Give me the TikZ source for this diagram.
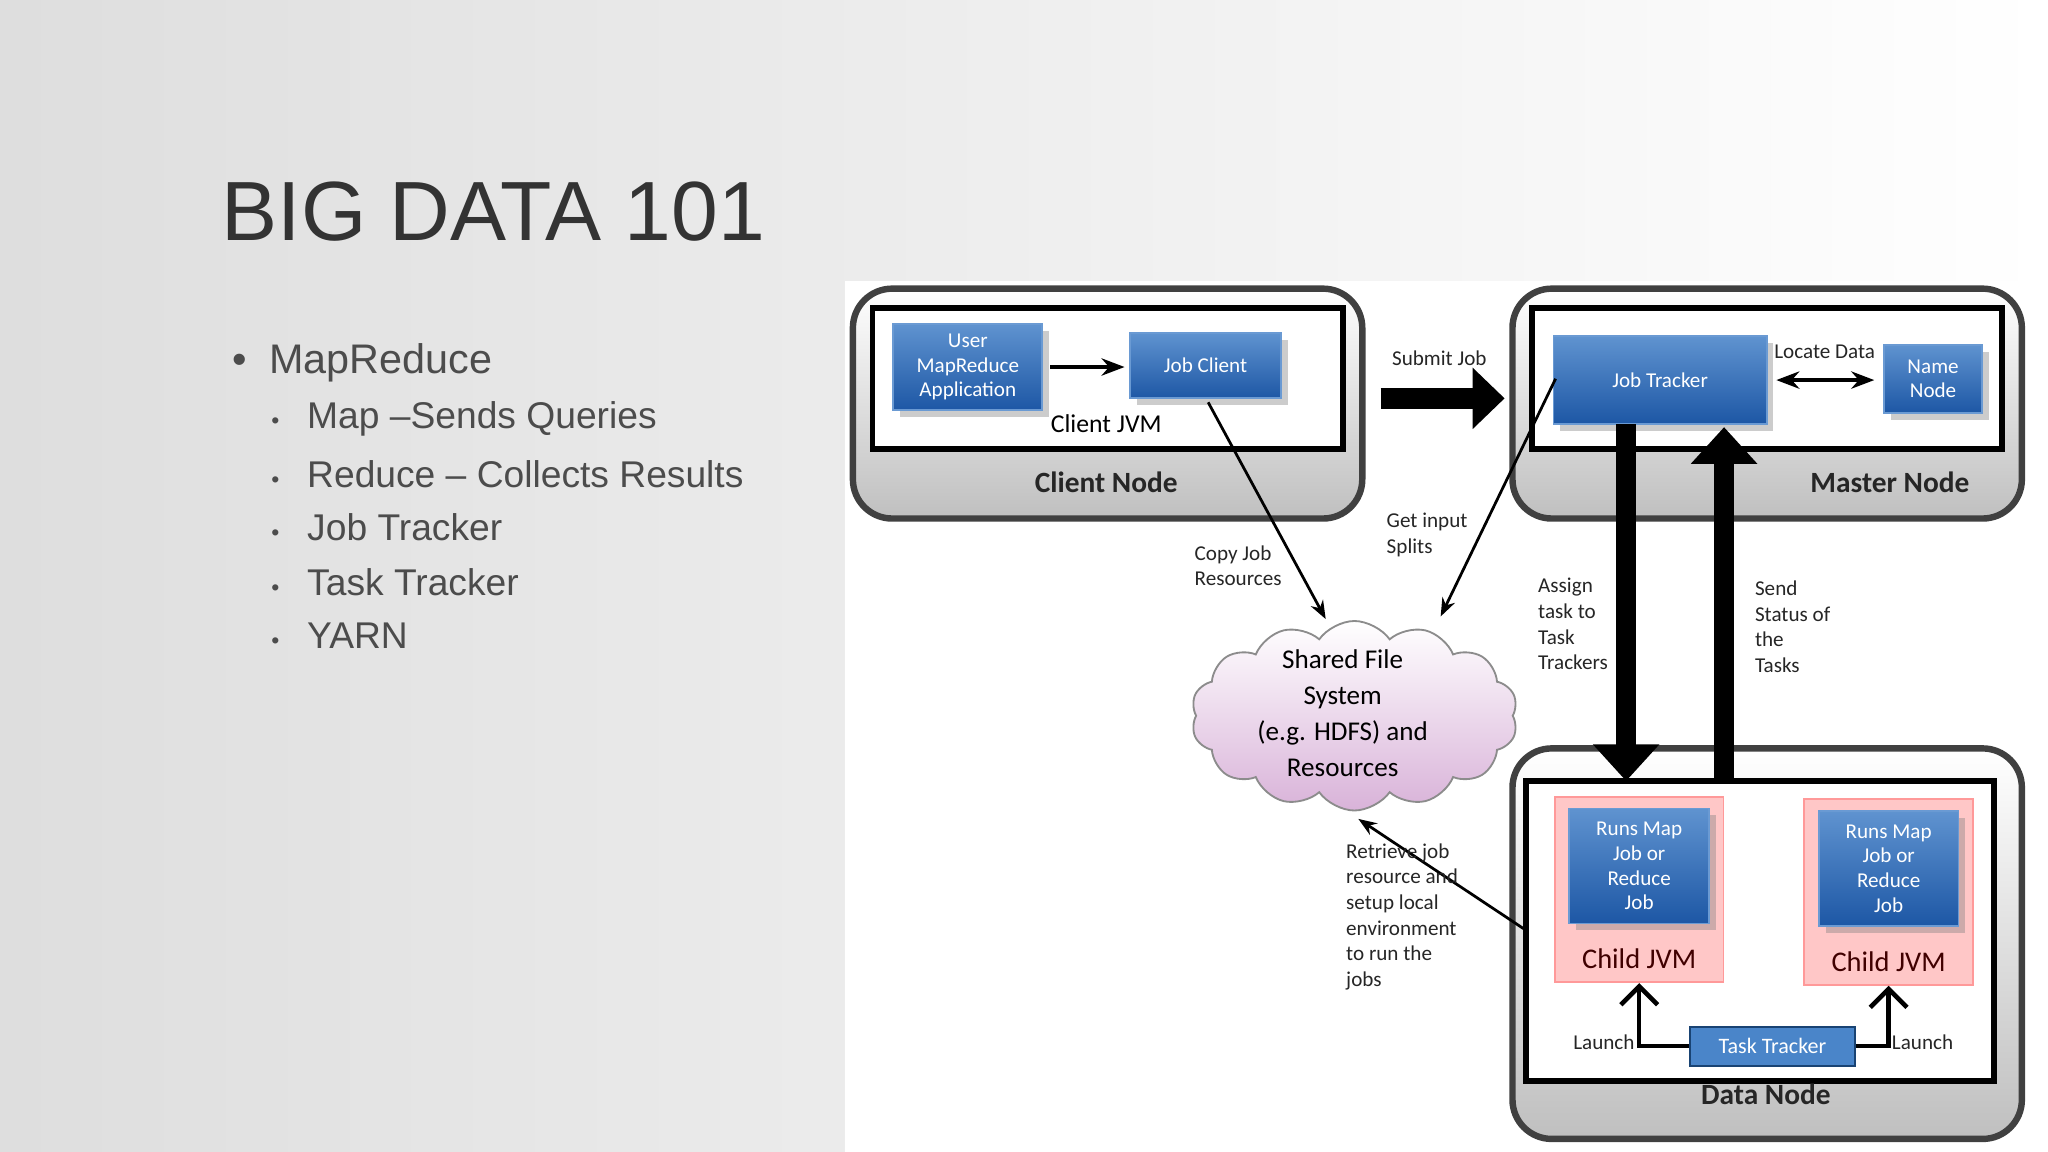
\documentclass[tikz,border=0pt]{standalone}
\usepackage{fontspec}
\setmainfont{Carlito}
\newfontfamily\ttl{Liberation Sans}
\usetikzlibrary{shapes.symbols,shadows,arrows.meta}
\definecolor{bx}{HTML}{2A6FC0}
\definecolor{bxd}{HTML}{1D57A5}
\begin{document}
\begin{tikzpicture}[x=0.01cm,y=-0.01cm,
 outer/.style={draw=black!75,line width=1.4pt,rounded corners=0.3cm,top color=white,bottom color=black!25},
 inner/.style={draw=black,line width=1.3pt,fill=white},
 blue/.style={draw=bx!70!white,top color=bx!75!white,bottom color=bxd,text=white,font=\fontsize{4.6}{5.4}\selectfont,align=center,inner sep=1pt,drop shadow={shadow xshift=1.5pt,shadow yshift=-1.5pt,opacity=0.4}},
 lbl/.style={font=\fontsize{4.6}{5.6}\selectfont,align=left,text=black!85,inner sep=0pt},
 bold/.style={font=\fontsize{6.4}{7.5}\selectfont\bfseries,text=black!85},
 thin/.style={-{Stealth[length=4pt]},line width=0.6pt},
 big/.style={-{Triangle[length=8pt,width=14pt]},line width=4.5pt},
 bul/.style={anchor=west,text=black!70,inner sep=0pt}]
\useasboundingbox (0,0) rectangle (1568,882);
\shade[left color=black!13,right color=white] (0,0) rectangle (1568,882);
\fill[white] (647,215) rectangle (1568,882);
% text slide
\node[anchor=west,inner sep=0pt,font=\ttl\fontsize{18.3}{22}\selectfont,text=black!80] (title) at (169,162) {BIG DATA 101};
\node[bul,font=\ttl\fontsize{9}{10}\selectfont] (b0) at (177,278) {\textbullet\hspace{0.55em}MapReduce};
\foreach \y/\t [count=\i] in {321/Map –Sends Queries,363/Reduce – Collects Results,404/Job Tracker,446/Task Tracker,487/YARN}
  \node[bul,font=\ttl\fontsize{8.1}{9}\selectfont] (b\i) at (207,\y) {{\fontsize{5}{6}\selectfont\textbullet}\hspace{0.75em}\t};
% client node
\draw[outer] (653,221) rectangle (1043,397);
\draw[inner] (668,236) rectangle (1028,344);
\node[bold] (cn) at (847,369) {Client Node};
\node[blue,minimum width=1.14cm,minimum height=0.66cm] (uma) at (741,281) {User\\MapReduce\\Application};
\node[blue,minimum width=1.15cm,minimum height=0.5cm] (jc) at (923,280) {Job Client};
\node[font=\fontsize{5.6}{6}\selectfont] (cjvm) at (847,324) {Client JVM};
\coordinate (u1) at (804,281); \coordinate (u2) at (861,281);
\draw[-{Stealth[length=5pt]},line width=1pt] (u1) -- (u2);
% master node
\draw[outer] (1158,221) rectangle (1548,397);
\draw[inner] (1173,236) rectangle (1533,344);
\node[bold] (mn) at (1447,369) {Master Node};
\node[blue,minimum width=1.63cm,minimum height=0.67cm] (jt) at (1271,291) {Job Tracker};
\node[blue,minimum width=0.75cm,minimum height=0.52cm] (nn) at (1480,290) {Name\\Node};
\coordinate (m1) at (1360,291); \coordinate (m2) at (1435,291);
\draw[{Stealth[length=5pt]}-{Stealth[length=5pt]},line width=1pt] (m1) -- (m2);
\node[lbl] (ld) at (1397,269) {Locate Data};
% submit job
\coordinate (s1) at (1057,305);
\coordinate (s2) at (1152,305);
\draw[-{Triangle[length=7pt,width=13pt]},line width=4.5pt] (s1) -- (s2);
\node[lbl] (sj) at (1102,274) {Submit Job};
% data node
\draw[outer] (1158,573) rectangle (1548,872);
\draw[inner] (1168,598) rectangle (1527,828);
\node[bold] (dn) at (1352,838) {Data Node};
\foreach \n/\x/\y in {1/1255/681,2/1446/683}{
  \node[draw=red!40,fill=red!22,minimum width=1.29cm,minimum height=1.42cm] (c\n) at (\x,\y) {};
  \node[blue,minimum width=1.07cm,minimum height=0.88cm] (r\n) at (\x,\y-18) {Runs Map\\Job or\\Reduce\\Job};
  \node[font=\fontsize{6.2}{7}\selectfont,text=red!25!black] (cj\n) at (\x,\y+53) {Child JVM};
}
\node[draw=bx!60!black,fill=bx!85!white,text=white,font=\fontsize{4.8}{5.4}\selectfont,minimum width=1.26cm,minimum height=0.3cm,inner sep=1pt] (tt) at (1357,801) {Task Tracker};
\draw[-{Straight Barb[length=4pt]},line width=1pt] (tt.west) -| (c1.south);
\draw[-{Straight Barb[length=4pt]},line width=1pt] (tt.east) -| (c2.south);
\node[lbl] (l1) at (1228,798) {Launch};
\node[lbl] (l2) at (1472,798) {Launch};
% big arrows
\coordinate (a1) at (1245,325); \coordinate (a2) at (1245,598);
\coordinate (a3) at (1320,598); \coordinate (a4) at (1320,327);
\draw[big] (a1) -- (a2);
\draw[big] (a3) -- (a4);
\node[lbl,anchor=north west] (at) at (1177,442) {Assign\\task to\\Task\\Trackers};
\node[lbl,anchor=north west] (ss) at (1343,444) {Send\\Status of\\the\\Tasks};
% cloud
\node[cloud,cloud puffs=14,cloud puff arc=110,aspect=1.6,draw=black!45,top color=white,bottom color=violet!30,minimum width=2.5cm,minimum height=1.45cm,inner sep=0pt] (fs) at (1037,548) {};
\node[font=\fontsize{5.9}{7.8}\selectfont,align=center] (fst) at (1028,546) {Shared File\\System\\(e.g. HDFS) and\\Resources};
\coordinate (c0s) at (925,308);
\coordinate (c1e) at (1015,474);
\coordinate (c2s) at (1191,290);
\coordinate (c2e) at (1103,472);
\coordinate (c3e) at (1040,627);
\coordinate (c3s) at (1168,712);
\draw[thin] (c0s) -- (c1e);
\draw[thin] (c2s) -- (c2e);
\draw[thin] (c3s) -- (c3e);
\node[lbl,anchor=north west] (cr) at (914,417) {Copy Job\\Resources};
\node[lbl,anchor=north west] (gi) at (1061,392) {Get input\\Splits};
\node[lbl,anchor=north west] (rj) at (1030,645) {Retrieve job\\resource and\\setup local\\environment\\to run the\\jobs};
\end{tikzpicture}
\end{document}
